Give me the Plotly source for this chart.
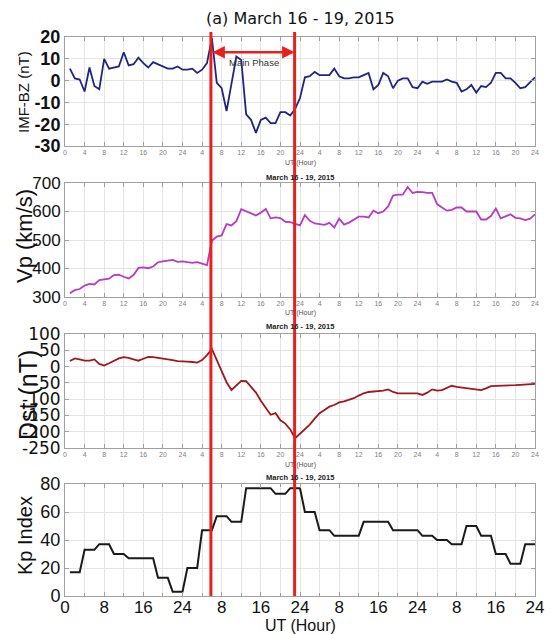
import numpy as np
import plotly.graph_objects as go

# ---------------- data ----------------
hours = list(range(1, 97))

imf_bz = [5.5, 1, 0.5, -5, 6, -2.5, -4, 10, 5.5, 6,
          6.5, 13, 7, 7.5, 10.5, 8, 6, 8.5, 7.5, 6.5,
          5.5, 5.5, 6.5, 5, 5, 5.5, 3.5, 5, 8, 19.5,
          -1, -3.5, -14, -1.5, 11, 9.5, -15.5, -18, -24, -18,
          -17, -19.5, -19.5, -14.5, -14.5, -16, -13, -8, 1.5, 2,
          4, 2.5, 2.5, 2.5, 5.5, 2, 1, 1, 1.5, 1.5,
          2.5, 3.5, -4, -2, 3.5, 2, -3.5, 0, 1, 1,
          -3, -3.5, -0.5, -1.5, -0.5, -0.5, -0.5, 0.5, -0.5, -1,
          -5, -4, -2, -5.5, -2.5, -3, -1, 3.5, 3.5, 1,
          1, -1, -3.5, -3, -0.5, 1.5]

vp = [313, 324, 328, 340, 346, 344, 359, 361, 364, 377,
      378, 371, 365, 377, 402, 404, 401, 407, 422, 425,
      428, 430, 423, 425, 422, 420, 422, 416, 412, 497,
      512, 516, 556, 551, 566, 608, 600, 594, 586, 596,
      609, 576, 579, 577, 564, 563, 558, 551, 587, 567,
      558, 556, 553, 560, 544, 575, 554, 561, 572, 582,
      582, 579, 603, 594, 600, 618, 656, 659, 659, 686,
      665, 669, 668, 665, 665, 626, 614, 603, 606, 614,
      614, 600, 600, 600, 572, 572, 584, 610, 576, 582,
      590, 578, 576, 570, 575, 590]

dst = [17, 25, 22, 18, 18, 22, 8, 3, 10, 18,
       25, 29, 27, 22, 18, 24, 30, 29, 27, 26,
       24, 20, 17, 15, 15, 14, 12, 20, 35, 54,
       20, -15, -48, -72, -58, -44, -45, -62, -80, -105,
       -128, -148, -143, -165, -175, -193, -220, -207, -192, -178,
       -160, -143, -133, -123, -118, -110, -107, -103, -97, -89,
       -82, -78, -77, -76, -74, -70, -78, -82, -82, -82,
       -82, -82, -87, -80, -70, -74, -72, -66, -59, -62,
       -64, -66, -69, -72, -72, -67, -60, -59, -59, -58,
       -57, -57, -56, -55, -52, -53]

# 3-hourly Kp (x10), each value held over its 3 hourly samples
kp_3h = [17, 33, 37, 30, 27, 27, 13, 3, 20, 47, 57, 53, 77, 77, 73, 77,
         60, 47, 43, 43, 53, 53, 47, 47, 43, 40, 37, 50, 43, 30, 23, 37]
kp = list(np.repeat(kp_3h, 3))

phase_times = [29.8, 46.9]          # start / end of main phase (hours)
arrow_level = 13                     # IMF-BZ level of the arrow

tick4_vals = list(range(0, 97, 4))
tick4_text = ['0' if v == 0 else str((v - 1) % 24 + 1) for v in tick4_vals]
tick8_vals = list(range(0, 97, 8))
tick8_text = ['0' if v == 0 else str((v - 1) % 24 + 1) for v in tick8_vals]

imf_ticks = [20, 10, 0, -10, -20, -30]
imf_text = ['20', '10', '0', '-10', '-20', '-30']
vp_ticks = [300, 400, 500, 600, 700]
vp_text = ['300', '400', '500', '600', '700']
dst_ticks = [100, 50, 0, -50, -100, -150, -200, -250]
dst_text = ['100', '50', '0', '-50', '-100', '-150', '-200', '-250']
kp_ticks = [0, 20, 40, 60, 80]
kp_text = ['0', '20', '40', '60', '80']

# ---------------- layout helpers ----------------
W, H = 552, 634
def py(p):
    return 1 - p / H
def px(p):
    return p / W

XDOM = [px(65), px(535)]
AXC = '#a0a0a0'
GRID = '#e4e4e4'
SANS = 'Liberation Sans, Arial, sans-serif'

def xax(anchor, small=True):
    d = dict(range=[0, 96], domain=XDOM, anchor=anchor, showline=True, linecolor=AXC,
             linewidth=1, mirror='ticks', ticks='inside', ticklen=4, tickcolor=AXC,
             showgrid=True, gridcolor=GRID, gridwidth=1, zeroline=False, automargin=False)
    if small:
        d.update(tickvals=tick4_vals, ticktext=tick4_text,
                 tickfont=dict(size=7, color='#808080', family=SANS))
    else:
        d.update(tickvals=tick8_vals, ticktext=tick8_text, ticklabelstandoff=-4,
                 tickfont=dict(size=17, color='#111', family=SANS),
                 minor=dict(dtick=4, showgrid=True, gridcolor=GRID, ticks='inside',
                            ticklen=3, tickcolor=AXC))
    return d

def yax(anchor, dom, rng, tv, tt, font):
    return dict(range=rng, domain=dom, anchor=anchor, showline=True, linecolor=AXC,
                linewidth=1, mirror='ticks', ticks='inside', ticklen=4, tickcolor=AXC,
                showgrid=True, gridcolor=GRID, zeroline=False, automargin=False,
                tickvals=tv, ticktext=tt, tickfont=font)

fig = go.Figure()
fig.add_trace(go.Scatter(x=hours, y=imf_bz, xaxis='x', yaxis='y', mode='lines',
                         line=dict(color='#1f2580', width=1.8), showlegend=False))
fig.add_trace(go.Scatter(x=hours, y=vp, xaxis='x2', yaxis='y2', mode='lines',
                         line=dict(color='#b63cc0', width=1.8), showlegend=False))
fig.add_trace(go.Scatter(x=hours, y=dst, xaxis='x3', yaxis='y3', mode='lines',
                         line=dict(color='#a0181c', width=1.8), showlegend=False))
fig.add_trace(go.Scatter(x=hours, y=kp, xaxis='x4', yaxis='y4', mode='lines',
                         line=dict(color='#1a1a1a', width=2), showlegend=False))

fig.update_layout(
    width=W, height=H, margin=dict(l=0, r=0, t=0, b=0, pad=0, autoexpand=False),
    paper_bgcolor='white', plot_bgcolor='white', showlegend=False,
    xaxis=xax('y'), xaxis2=xax('y2'), xaxis3=xax('y3'), xaxis4=xax('y4', small=False),
    yaxis=yax('x', [py(146), py(37)], [-30, 20], imf_ticks, imf_text,
              dict(size=18, color='#111', family=SANS, weight='bold')),
    yaxis2=yax('x2', [py(297), py(183)], [300, 700], vp_ticks, vp_text,
               dict(size=17, color='#111', family=SANS)),
    yaxis3=yax('x3', [py(448), py(334)], [-250, 100], dst_ticks, dst_text,
               dict(size=17, color='#111', family='DejaVu Sans')),
    yaxis4=yax('x4', [py(596), py(484)], [0, 80], kp_ticks, kp_text,
               dict(size=18, color='#111', family=SANS)),
)

ann = []
def note(text, x, y, size, family=SANS, color='#111', angle=0, weight='normal'):
    ann.append(dict(text=text, x=px(x), y=py(y), xref='paper', yref='paper', showarrow=False,
                    textangle=angle, xanchor='center', yanchor='middle',
                    font=dict(size=size, family=family, color=color, weight=weight)))

note('(a) March 16 - 19, 2015', 300, 18, 16, family='DejaVu Sans')
note('IMF-BZ (nT)', 24, 92, 15, angle=-90)
note('Vp (km/s)', 24, 236, 22, angle=-90)
note('Dst (nT)', 28, 395, 25, angle=-90)
note('Kp Index', 25, 536, 20, angle=-90)
for yy in (163, 313, 465):
    note('UT (Hour)', 300, yy, 7, color='#555')
for yy in (177, 326, 477):
    note('March 16 - 19, 2015', 300, yy, 7.5, weight='bold', color='#222')
note('UT (Hour)', 300, 625, 16)

# main phase arrow & label
ann.append(dict(x=phase_times[1], y=arrow_level, ax=phase_times[0], ay=arrow_level,
                xref='x', yref='y', axref='x', ayref='y', text='', showarrow=True,
                arrowhead=2, startarrowhead=2, arrowside='end+start', arrowsize=1,
                arrowwidth=2.5, arrowcolor='#e8201c', standoff=0, startstandoff=0))
ann.append(dict(x=38.6, y=8.5, xref='x', yref='y',
                text='Main Phase', showarrow=False,
                font=dict(size=9.5, family=SANS, color='#333')))
fig.update_layout(annotations=ann)

# red vertical markers spanning all panels
for t in phase_times:
    fig.add_shape(type='line', xref='x4', yref='paper', x0=t, x1=t,
                  y0=py(596), y1=py(32), line=dict(color='#e8201c', width=3))

fig.write_html('out.html')
